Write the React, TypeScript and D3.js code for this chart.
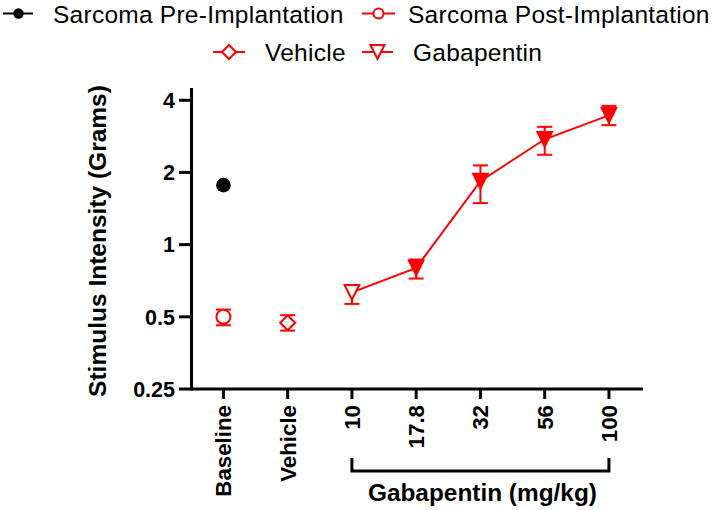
import React from "react";
import * as d3 from "d3";

const categories = ["Baseline", "Vehicle", "10", "17.8", "32", "56", "100"];
const yTicks = [0.25, 0.5, 1, 2, 4];
const yTickLabels = ["0.25", "0.5", "1", "2", "4"];

// Sarcoma Pre-Implantation (Baseline)
const preMean = [1.77];
// Sarcoma Post-Implantation (Baseline)
const postMean = [0.5];
const postLow = [0.461];
const postHigh = [0.536];
// Vehicle
const vehMean = [0.472];
const vehLow = [0.438];
const vehHigh = [0.508];
// Gabapentin doses
const gabaDoses = ["10", "17.8", "32", "56", "100"];
const gabaMean = [0.632, 0.8, 1.84, 2.75, 3.46];
const gabaLow = [0.566, 0.722, 1.49, 2.37, 3.15];
const gabaHigh = [0.675, 0.867, 2.14, 3.1, 3.79];
const gabaFilled = [false, true, true, true, true];

const legendRow1 = ["Sarcoma Pre-Implantation", "Sarcoma Post-Implantation"];
const legendRow2 = ["Vehicle", "Gabapentin"];

const RED = "#ff0000";
const FONT = "'Liberation Sans', Arial, Helvetica, sans-serif";

function triDown(cx: number, cy: number, h: number) {
  return `M${cx - h},${cy - h}L${cx + h},${cy - h}L${cx},${cy + h}Z`;
}
function diamond(cx: number, cy: number, h: number) {
  return `M${cx},${cy - h}L${cx + h},${cy}L${cx},${cy + h}L${cx - h},${cy}Z`;
}

export default function App() {
  const W = 716;
  const H = 510;
  const x = d3.scaleLinear().domain([-0.52, 6.53]).range([190, 643]);
  const y = d3.scaleLog().base(2).domain([0.25, 4.5]).range([389, 88]);
  const xi = (c: string) => x(categories.indexOf(c));

  const errBar = (cx: number, lo: number, hi: number, key: string) => (
    <g key={key} stroke={RED} strokeWidth={2}>
      <line x1={cx} x2={cx} y1={y(lo)} y2={y(hi)} />
      <line x1={cx - 7.5} x2={cx + 7.5} y1={y(lo)} y2={y(lo)} />
      <line x1={cx - 7.5} x2={cx + 7.5} y1={y(hi)} y2={y(hi)} />
    </g>
  );

  const line = d3
    .line<number>()
    .x((_, i) => xi(gabaDoses[i]))
    .y((d) => y(d));

  const bx0 = xi("10");
  const bx1 = xi("100");
  const LF = 24.5;
  const LS = 0.25;

  return (
    <svg
      width={W}
      height={H}
      style={{ position: "absolute", left: 0, top: 0 }}
      fontFamily={FONT}
    >
      <rect width={W} height={H} fill="#fff" />
      {/* Legend */}
      <g>
        <line x1={3} x2={33} y1={13.5} y2={13.5} stroke="#000" strokeWidth={2} />
        <circle cx={18.5} cy={13.5} r={5.2} fill="#000" />
        <text x={53} y={22.5} fontSize={LF} letterSpacing={LS}>{legendRow1[0]}</text>
        <line x1={362} x2={395} y1={13.5} y2={13.5} stroke={RED} strokeWidth={2} />
        <circle cx={378.5} cy={13.5} r={5} fill="#fff" stroke={RED} strokeWidth={2} />
        <text x={408} y={22.5} fontSize={LF} letterSpacing={LS}>{legendRow1[1]}</text>

        <line x1={213} x2={245} y1={52} y2={52} stroke={RED} strokeWidth={2} />
        <path d={diamond(229, 52, 7)} fill="#fff" stroke={RED} strokeWidth={2} />
        <text x={265} y={60.5} fontSize={LF} letterSpacing={LS}>{legendRow2[0]}</text>
        <line x1={362} x2={393} y1={52} y2={52} stroke={RED} strokeWidth={2} />
        <path d={triDown(377.5, 52, 7)} fill="#fff" stroke={RED} strokeWidth={2} />
        <text x={413} y={60.5} fontSize={LF} letterSpacing={LS}>{legendRow2[1]}</text>
      </g>

      {/* Axes */}
      <g stroke="#000" strokeWidth={3}>
        <line x1={191.5} x2={191.5} y1={88} y2={390.5} />
        <line x1={190} x2={643} y1={389} y2={389} />
        {yTicks.map((t) => (
          <line key={t} x1={179} x2={191.5} y1={y(t)} y2={y(t)} />
        ))}
        {categories.map((c, i) => (
          <line key={c} x1={x(i)} x2={x(i)} y1={389} y2={399} />
        ))}
      </g>
      {yTicks.map((t, i) => (
        <text
          key={t}
          x={175}
          y={y(t)}
          dy="0.36em"
          textAnchor="end"
          fontSize={21.5}
          fontWeight="bold"
        >
          {yTickLabels[i]}
        </text>
      ))}
      {categories.map((c, i) => (
        <text
          key={c}
          transform={`translate(${x(i)},405) rotate(-90)`}
          dy="0.36em"
          textAnchor="end"
          fontSize={22.3}
          fontWeight="bold"
        >
          {c}
        </text>
      ))}
      <text
        transform={`translate(97,241) rotate(-90)`}
        dy="0.36em"
        textAnchor="middle"
        fontSize={24.5}
        fontWeight="bold"
      >
        Stimulus Intensity (Grams)
      </text>

      {/* Bracket */}
      <path
        d={`M${bx0},458V471H${bx1}V458`}
        fill="none"
        stroke="#000"
        strokeWidth={3}
      />
      <text
        x={(bx0 + bx1) / 2 + 2}
        y={501}
        textAnchor="middle"
        fontSize={24.4}
        fontWeight="bold"
      >
        Gabapentin (mg/kg)
      </text>

      {/* Data */}
      {errBar(xi("Baseline"), postLow[0], postHigh[0], "post")}
      {errBar(xi("Vehicle"), vehLow[0], vehHigh[0], "veh")}
      {gabaDoses.map((d, i) => errBar(xi(d), gabaLow[i], gabaHigh[i], "g" + d))}
      <path d={line(gabaMean) || ""} fill="none" stroke={RED} strokeWidth={2} />

      <circle cx={xi("Baseline")} cy={y(preMean[0])} r={7.3} fill="#000" />
      <circle
        cx={xi("Baseline")}
        cy={y(postMean[0])}
        r={7}
        fill="#fff"
        stroke={RED}
        strokeWidth={2}
      />
      <path
        d={diamond(xi("Vehicle"), y(vehMean[0]), 7.5)}
        fill="#fff"
        stroke={RED}
        strokeWidth={2}
      />
      {gabaDoses.map((d, i) => (
        <path
          key={d}
          d={triDown(xi(d), y(gabaMean[i]), 7.3)}
          fill={gabaFilled[i] ? RED : "#fff"}
          stroke={RED}
          strokeWidth={2}
        />
      ))}
    </svg>
  );
}
